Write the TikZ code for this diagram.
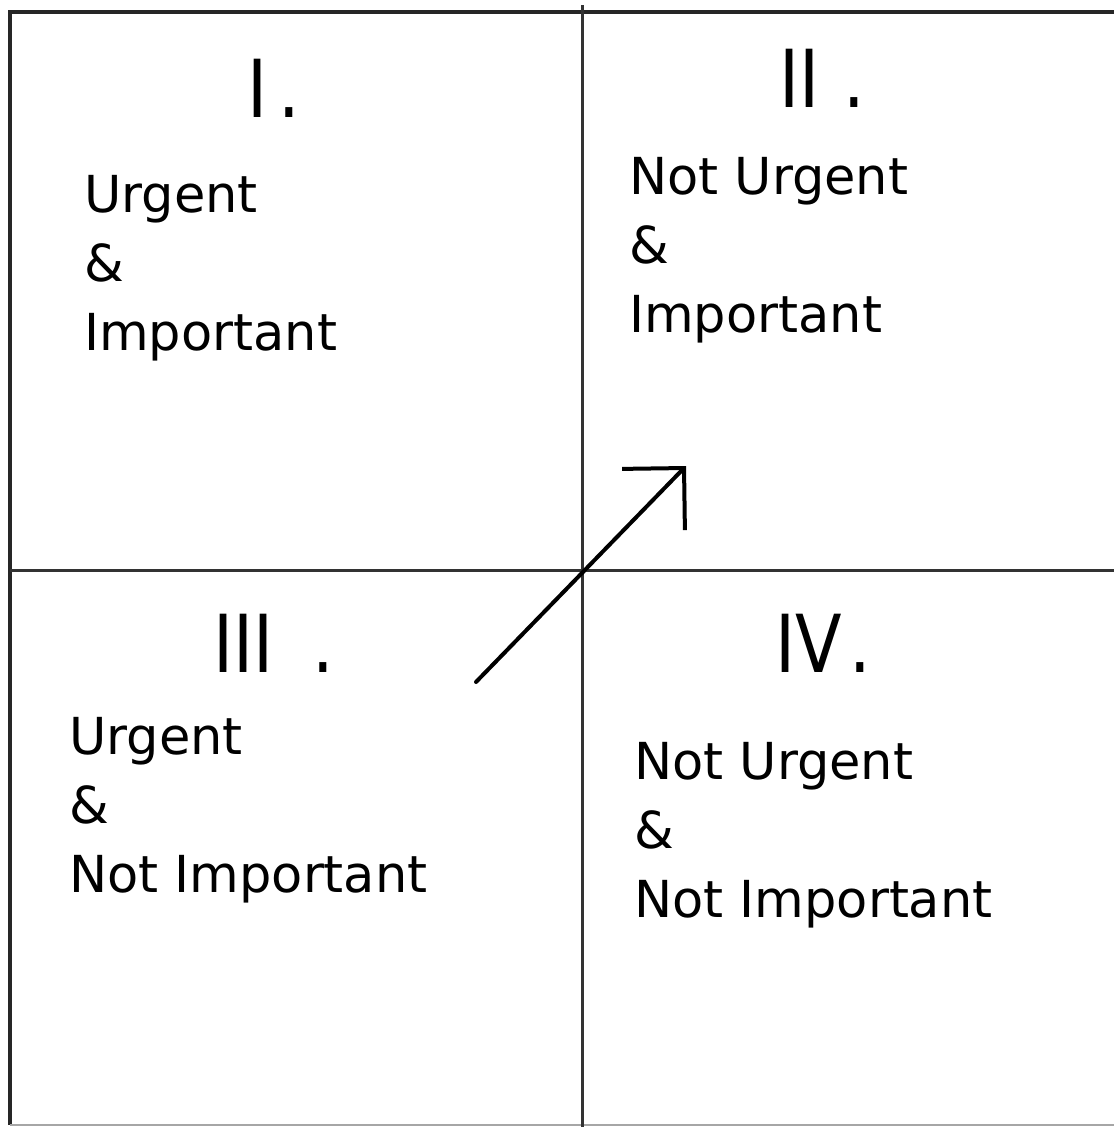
\documentclass[tikz,border=0pt]{standalone}
\usepackage{fontspec}
\setmainfont{DejaVu Sans}
\newfontfamily\numfont[FakeStretch=0.85]{DejaVu Sans}
\usetikzlibrary{arrows.meta}
\begin{document}
\begin{tikzpicture}[x=1pt,y=-1pt,
  border/.style={line width=4pt,draw=black!85},
  axis/.style={line width=3pt,draw=black!80},
  numeral/.style={anchor=base west,inner sep=0pt,font=\numfont\fontsize{80}{80}\selectfont},
  label/.style={anchor=base west,inner sep=0pt,align=left,font=\fontsize{51}{69}\selectfont},
  arrowline/.style={line width=4pt,line cap=round,-{Straight Barb[angle=90:62pt,line cap=butt]}}]
\useasboundingbox[fill=white] (0,0) rectangle (1114,1127);
% frame and axes
\draw[border] (10,1125) -- (10,12) -- (1114,12);
\draw[line width=2pt,draw=black!35] (10,1125) -- (1114,1125);
\draw[axis] (582,5) -- (582,1127);
\draw[axis] (10,570) -- (1114,570);
% quadrant I
\node[numeral] (n1) at (247,117) {I\kern11pt.};
\node[label] (t1) at (84,350) {Urgent\\\&\\Important};
% quadrant II
\node[numeral] (n2) at (779,107) {II\kern24pt.};
\node[label] (t2) at (629,332) {Not Urgent\\\&\\Important};
% quadrant III
\node[numeral] (n3) at (213,672) {III\kern39pt.};
\node[label] (t3) at (69,892) {Urgent\\\&\\Not Important};
% quadrant IV
\node[numeral] (n4) at (775,672) {IV\kern8pt.};
\node[label] (t4) at (634,917) {Not Urgent\\\&\\Not Important};
% arrow
\coordinate (tail) at (476,682);
\coordinate (tip) at (686,466);
\draw[arrowline] (tail) -- (tip);
\end{tikzpicture}
\end{document}
